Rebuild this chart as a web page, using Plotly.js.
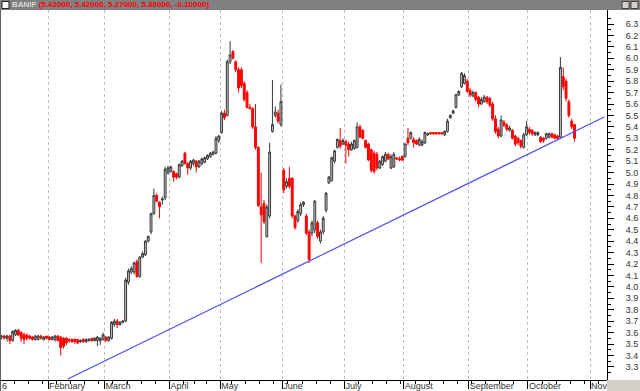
<!DOCTYPE html>
<html><head><meta charset="utf-8">
<script src="https://cdn.plot.ly/plotly-3.0.1.min.js"></script>
<style>html,body{margin:0;padding:0;background:#fff;}#chart{width:640px;height:391px;}</style>
</head><body><div id="chart"></div>
<script>
const dates = [
'2006-01-09','2006-01-10','2006-01-11','2006-01-12','2006-01-13','2006-01-16','2006-01-17','2006-01-18','2006-01-19','2006-01-20','2006-01-23','2006-01-24','2006-01-25','2006-01-26','2006-01-27','2006-01-30','2006-01-31',
'2006-02-01','2006-02-02','2006-02-03','2006-02-06','2006-02-07','2006-02-08','2006-02-09','2006-02-10','2006-02-13','2006-02-14','2006-02-15','2006-02-16','2006-02-17','2006-02-20','2006-02-21','2006-02-22','2006-02-23','2006-02-24','2006-02-27','2006-02-28',
'2006-03-01','2006-03-02','2006-03-03','2006-03-06','2006-03-07','2006-03-08','2006-03-09','2006-03-10','2006-03-13','2006-03-14','2006-03-15','2006-03-16','2006-03-17','2006-03-20','2006-03-21','2006-03-22','2006-03-23','2006-03-24','2006-03-27','2006-03-28','2006-03-29','2006-03-30','2006-03-31',
'2006-04-03','2006-04-04','2006-04-05','2006-04-06','2006-04-07','2006-04-10','2006-04-11','2006-04-12','2006-04-13','2006-04-18','2006-04-19','2006-04-20','2006-04-21','2006-04-24','2006-04-25','2006-04-26','2006-04-27','2006-04-28',
'2006-05-02','2006-05-03','2006-05-04','2006-05-05','2006-05-08','2006-05-09','2006-05-10','2006-05-11','2006-05-12','2006-05-15','2006-05-16','2006-05-17','2006-05-18','2006-05-19','2006-05-22','2006-05-23','2006-05-24','2006-05-25','2006-05-26','2006-05-29','2006-05-30','2006-05-31',
'2006-06-01','2006-06-02','2006-06-05','2006-06-06','2006-06-07','2006-06-08','2006-06-09','2006-06-12','2006-06-13','2006-06-14','2006-06-15','2006-06-16','2006-06-19','2006-06-20','2006-06-21','2006-06-22','2006-06-23','2006-06-26','2006-06-27','2006-06-28','2006-06-29','2006-06-30',
'2006-07-03','2006-07-04','2006-07-05','2006-07-06','2006-07-07','2006-07-10','2006-07-11','2006-07-12','2006-07-13','2006-07-14','2006-07-17','2006-07-18','2006-07-19','2006-07-20','2006-07-21','2006-07-24','2006-07-25','2006-07-26','2006-07-27','2006-07-28','2006-07-31',
'2006-08-01','2006-08-02','2006-08-03','2006-08-04','2006-08-07','2006-08-08','2006-08-09','2006-08-10','2006-08-11','2006-08-14','2006-08-15','2006-08-16','2006-08-17','2006-08-18','2006-08-21','2006-08-22','2006-08-23','2006-08-24','2006-08-25','2006-08-28','2006-08-29','2006-08-30','2006-08-31',
'2006-09-01','2006-09-04','2006-09-05','2006-09-06','2006-09-07','2006-09-08','2006-09-11','2006-09-12','2006-09-13','2006-09-14','2006-09-15','2006-09-18','2006-09-19','2006-09-20','2006-09-21','2006-09-22','2006-09-25','2006-09-26','2006-09-27','2006-09-28','2006-09-29',
'2006-10-02','2006-10-03','2006-10-04','2006-10-05','2006-10-06','2006-10-09','2006-10-10','2006-10-11','2006-10-12','2006-10-13','2006-10-16','2006-10-17','2006-10-18','2006-10-19','2006-10-20','2006-10-23','2006-10-24'
];
const openP = [
3.56,3.57,3.55,3.57,3.53,3.58,3.62,3.60,3.58,3.58,3.57,3.56,3.54,3.54,3.57,3.54,3.57,
3.56,3.54,3.54,3.57,3.56,3.55,3.55,3.54,3.54,3.54,3.54,3.52,3.54,3.52,3.53,3.55,3.53,3.53,3.53,3.54,
3.56,3.53,3.55,3.67,3.70,3.67,3.69,3.70,4.04,4.13,4.13,4.22,4.09,4.26,4.28,4.40,4.48,4.64,4.80,4.74,4.76,4.78,5.00,
5.01,5.01,4.99,4.96,5.06,5.17,5.08,5.04,5.08,5.10,5.05,5.08,5.09,5.12,5.14,5.16,5.17,5.28,
5.35,5.52,5.50,5.97,6.06,5.97,5.90,5.90,5.78,5.70,5.57,5.56,5.40,5.22,4.70,4.73,4.44,4.62,5.36,5.50,5.52,5.42,
5.02,4.88,4.95,4.95,4.62,4.58,4.64,4.72,4.62,4.48,4.47,4.50,4.56,4.40,4.48,4.67,4.91,4.93,5.10,5.22,5.28,5.25,
5.27,5.25,5.20,5.21,5.22,5.40,5.37,5.28,5.25,5.20,5.17,5.16,5.04,5.07,5.10,5.16,5.04,5.05,5.13,5.12,5.14,
5.14,5.30,5.30,5.29,5.28,5.24,5.24,5.26,5.33,5.35,5.35,5.35,5.35,5.35,5.33,5.36,5.48,5.52,5.57,5.68,5.75,5.78,5.80,
5.72,5.67,5.70,5.66,5.60,5.62,5.66,5.65,5.60,5.47,5.38,5.32,5.44,5.42,5.37,5.37,5.32,5.30,5.28,5.22,5.33,
5.38,5.37,5.33,5.33,5.31,5.30,5.30,5.31,5.34,5.33,5.32,5.31,5.84,5.80,5.62,5.45,5.42
];
const highP = [
3.58,3.58,3.58,3.58,3.62,3.63,3.63,3.61,3.60,3.59,3.58,3.57,3.58,3.58,3.58,3.57,3.57,
3.57,3.57,3.58,3.58,3.57,3.56,3.56,3.55,3.55,3.55,3.54,3.54,3.55,3.55,3.55,3.55,3.56,3.57,3.56,3.60,
3.57,3.57,3.70,3.72,3.72,3.70,3.71,4.08,4.16,4.18,4.22,4.24,4.27,4.31,4.41,4.45,4.65,4.86,4.82,4.75,4.79,5.05,5.06,
5.06,5.02,5.00,5.08,5.11,5.18,5.09,5.11,5.12,5.11,5.11,5.13,5.14,5.16,5.18,5.19,5.32,5.33,
5.54,5.55,5.99,6.15,6.07,5.98,5.92,5.92,5.80,5.72,5.60,5.57,5.60,5.23,5.00,4.76,4.72,5.26,5.81,5.58,5.55,5.77,
5.04,4.95,5.05,4.96,4.63,4.68,4.74,4.75,4.64,4.50,4.58,4.76,4.58,4.50,4.62,4.83,4.97,5.14,5.20,5.30,5.39,5.30,
5.29,5.27,5.27,5.29,5.44,5.42,5.38,5.29,5.26,5.21,5.19,5.18,5.11,5.15,5.18,5.17,5.16,5.18,5.13,5.14,5.15,
5.26,5.39,5.36,5.31,5.29,5.31,5.29,5.36,5.35,5.35,5.35,5.35,5.35,5.35,5.37,5.47,5.51,5.55,5.69,5.72,5.88,5.87,5.82,
5.74,5.72,5.71,5.67,5.66,5.68,5.67,5.66,5.62,5.50,5.40,5.50,5.46,5.43,5.41,5.38,5.33,5.31,5.29,5.35,5.45,
5.40,5.38,5.36,5.36,5.32,5.31,5.35,5.35,5.35,5.34,5.33,6.01,5.92,5.82,5.64,5.47,5.42
];
const lowP = [
3.54,3.54,3.52,3.50,3.52,3.57,3.57,3.52,3.50,3.53,3.54,3.53,3.53,3.53,3.54,3.53,3.54,
3.53,3.53,3.52,3.52,3.40,3.46,3.49,3.51,3.51,3.50,3.50,3.51,3.51,3.51,3.52,3.52,3.52,3.48,3.49,3.53,
3.52,3.52,3.54,3.65,3.64,3.66,3.68,3.69,4.02,4.11,4.11,4.08,4.08,4.25,4.27,4.39,4.46,4.63,4.74,4.60,4.72,4.76,4.98,
5.00,4.92,4.94,4.95,5.05,5.07,4.98,5.02,5.06,5.00,5.04,5.06,5.08,5.11,5.13,5.15,5.16,5.26,
5.34,5.46,5.49,5.95,5.99,5.88,5.70,5.74,5.62,5.56,5.55,5.38,5.20,4.70,4.21,4.55,4.43,4.60,5.35,5.48,5.43,5.40,
4.82,4.86,4.86,4.60,4.50,4.56,4.62,4.70,4.45,4.21,4.44,4.47,4.42,4.38,4.46,4.65,4.90,4.92,5.08,5.21,5.21,5.24,
5.08,5.14,5.19,5.20,5.21,5.30,5.29,5.21,5.10,5.00,4.99,5.02,5.03,5.06,5.09,5.11,5.03,5.04,5.11,5.10,5.10,
5.13,5.24,5.29,5.22,5.24,5.23,5.23,5.25,5.32,5.33,5.33,5.33,5.33,5.33,5.32,5.35,5.47,5.51,5.56,5.67,5.74,5.77,5.70,
5.66,5.66,5.62,5.57,5.59,5.61,5.60,5.57,5.45,5.34,5.30,5.31,5.40,5.36,5.36,5.29,5.23,5.24,5.21,5.21,5.32,
5.33,5.32,5.32,5.32,5.26,5.26,5.29,5.30,5.30,5.29,5.29,5.30,5.72,5.62,5.48,5.38,5.27
];
const closeP = [
3.57,3.55,3.57,3.53,3.61,3.62,3.58,3.55,3.54,3.55,3.55,3.54,3.57,3.57,3.55,3.56,3.55,
3.54,3.56,3.57,3.53,3.47,3.48,3.51,3.53,3.52,3.52,3.51,3.53,3.52,3.54,3.54,3.53,3.55,3.56,3.55,3.58,
3.53,3.56,3.69,3.70,3.67,3.69,3.70,4.06,4.14,4.16,4.21,4.09,4.26,4.29,4.40,4.44,4.64,4.80,4.75,4.70,4.77,5.03,5.04,
5.05,4.96,4.96,5.07,5.10,5.08,5.04,5.10,5.11,5.05,5.10,5.12,5.13,5.15,5.17,5.18,5.30,5.32,
5.52,5.48,5.97,6.03,6.00,5.90,5.74,5.76,5.64,5.57,5.56,5.40,5.22,4.71,4.63,4.57,4.70,5.18,5.42,5.53,5.45,5.62,
4.85,4.92,4.88,4.62,4.52,4.66,4.72,4.74,4.47,4.24,4.56,4.75,4.44,4.48,4.60,4.82,4.96,5.13,5.19,5.29,5.23,5.28,
5.24,5.20,5.25,5.28,5.40,5.31,5.30,5.22,5.11,5.02,5.01,5.04,5.10,5.14,5.16,5.12,5.14,5.16,5.12,5.11,5.11,
5.25,5.26,5.35,5.26,5.25,5.29,5.27,5.35,5.34,5.34,5.34,5.34,5.34,5.34,5.36,5.45,5.50,5.54,5.68,5.71,5.87,5.85,5.71,
5.68,5.70,5.64,5.60,5.64,5.66,5.62,5.59,5.47,5.36,5.32,5.46,5.41,5.38,5.39,5.30,5.25,5.26,5.23,5.33,5.40,
5.35,5.34,5.35,5.35,5.27,5.28,5.34,5.34,5.31,5.30,5.30,5.92,5.75,5.65,5.50,5.40,5.30
];
const holidays = ['2006-04-14','2006-04-17','2006-05-01'];
const monthTicks = ['2006-02-01','2006-03-01','2006-04-03','2006-05-02','2006-06-01','2006-07-03','2006-08-01','2006-09-01','2006-10-02','2006-11-01'];
const monthLabels = ['February','March','April','May','June','July','August','September','October','Nove'];
const yTicks = [3.3,3.4,3.5,3.6,3.7,3.8,3.9,4.0,4.1,4.2,4.3,4.4,4.5,4.6,4.7,4.8,4.9,5.0,5.1,5.2,5.3,5.4,5.5,5.6,5.7,5.8,5.9,6.0,6.1,6.2,6.3];
const trendX = ['2006-02-10','2006-11-08'];
const trendY = [3.194, 5.486];
const symbol = 'BANIF';
const lastValues = ['5.42000','5.42000','5.27000','5.30000','-0.10000'];

const W = 640, H = 391, ML = 0, MR = 33, MT = 10, MB = 11;
const PW = W - ML - MR, PH = H - MT - MB;
const px = v => v / PW, py = v => v / PH;

const traces = [
  {
    type: 'candlestick',
    x: dates.map(d => d + ' 12:00'),
    open: openP, high: highP, low: lowP, close: closeP,
    increasing: {line: {color: '#3a3a3a', width: 1}, fillcolor: '#c4c4c4'},
    decreasing: {line: {color: '#ff0000', width: 1}, fillcolor: '#ff0000'},
    whiskerwidth: 0,
    hoverinfo: 'skip'
  },
  {
    type: 'scatter', mode: 'lines',
    x: trendX, y: trendY,
    line: {color: '#5050f0', width: 1.2},
    hoverinfo: 'skip'
  }
];

const layout = {
  width: W, height: H,
  margin: {l: ML, r: MR, t: MT, b: MB, pad: 0},
  paper_bgcolor: '#ffffff', plot_bgcolor: '#ffffff',
  showlegend: false, hovermode: false,
  boxgap: 0.05,
  font: {family: 'Liberation Sans, Arial, sans-serif', size: 9, color: '#333333'},
  xaxis: {
    type: 'date',
    range: ['2006-01-09', '2006-11-09'],
    rangebreaks: [{bounds: ['sat', 'mon']}, {values: holidays}],
    rangeslider: {visible: false},
    tickmode: 'array', tickvals: monthTicks, ticktext: monthLabels,
    ticks: 'outside', ticklen: 8, tickcolor: '#000', tickwidth: 1,
    ticklabelposition: 'outside right',
    ticklabelstandoff: -3,
    showgrid: true, gridcolor: '#bcbcbc', griddash: 'dot', gridwidth: 1,
    showline: true, linecolor: '#000', linewidth: 1, zeroline: false,
    minor: {tickmode: 'linear', tick0: '2006-01-09', dtick: 7 * 86400000, ticks: 'outside', ticklen: 3, tickcolor: '#000', showgrid: false},
    fixedrange: true
  },
  yaxis: {
    side: 'right',
    range: [3.185, 6.4225],
    tickmode: 'array', tickvals: yTicks, tickformat: '.1f',
    ticks: 'outside', ticklen: 6, tickcolor: '#000', tickwidth: 1,
    ticklabelstandoff: 10,
    showline: true, linecolor: '#000', linewidth: 1,
    showgrid: false, zeroline: false,
    minor: {tickmode: 'linear', tick0: 3.25, dtick: 0.1, ticks: 'outside', ticklen: 3, tickcolor: '#000', showgrid: false},
    fixedrange: true
  },
  shapes: [
    {type: 'rect', xref: 'paper', yref: 'paper', x0: 0, x1: px(W), y0: 1, y1: 1 + py(MT), fillcolor: '#808080', line: {width: 0}, layer: 'above'},
    {type: 'rect', xref: 'paper', yref: 'paper', x0: px(2), x1: px(9), y0: 1 + py(1.5), y1: 1 + py(8.5), fillcolor: '#ffffff', line: {color: '#202020', width: 1}, layer: 'above'},
    {type: 'rect', xref: 'paper', yref: 'paper', x0: px(622), x1: px(629), y0: 1 + py(1.5), y1: 1 + py(8.5), fillcolor: '#d4d0c8', line: {color: '#404040', width: 1}, layer: 'above'},
    {type: 'rect', xref: 'paper', yref: 'paper', x0: px(631), x1: px(638), y0: 1 + py(1.5), y1: 1 + py(8.5), fillcolor: '#d4d0c8', line: {color: '#404040', width: 1}, layer: 'above'},
    {type: 'rect', xref: 'paper', yref: 'paper', x0: 1, x1: px(W), y0: -py(MB), y1: 0, fillcolor: '#d4d0c8', line: {width: 0}, layer: 'above'},
    {type: 'line', xref: 'paper', yref: 'paper', x0: px(0.5), x1: px(0.5), y0: -py(MB), y1: 1, line: {color: '#606060', width: 1}, layer: 'above'}
  ],
  annotations: [
    {xref: 'paper', yref: 'paper', x: px(10), y: 1 + py(5), xanchor: 'left', yanchor: 'middle', showarrow: false,
     text: '<b><span style="color:#d8d8d8">' + symbol + '</span> <span style="color:#ff0000">(' + lastValues.join(', ') + ')</span></b>',
     font: {family: 'Liberation Sans, Arial, sans-serif', size: 8}},
    {xref: 'paper', yref: 'paper', x: px(0), y: -py(6), xanchor: 'left', yanchor: 'middle', showarrow: false,
     text: '6', font: {size: 9, color: '#333333'}}
  ]
};

Plotly.newPlot('chart', traces, layout, {staticPlot: true, displayModeBar: false});
</script></body></html>
